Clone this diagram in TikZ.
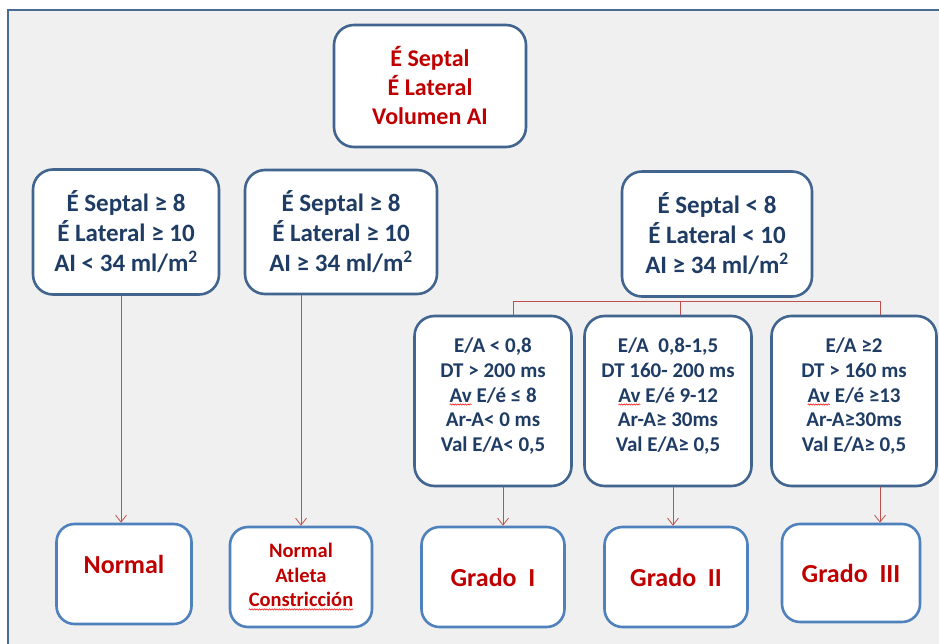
\documentclass[tikz,border=0pt]{standalone}
\usepackage{fontspec}
\setmainfont{Carlito}
\usetikzlibrary{arrows,arrows.meta,calc,positioning,decorations.pathmorphing}
\definecolor{panelgray}{HTML}{F0F0F0}
\definecolor{framblue}{HTML}{4A6C94}
\definecolor{boxblue}{HTML}{41658F}
\definecolor{lowblue}{HTML}{4F81BD}
\definecolor{txtblue}{HTML}{1F3C64}
\definecolor{txtred}{HTML}{C00000}
\definecolor{linkred}{HTML}{C0504D}
% wavy spell-check underline
\newcommand{\spellmark}[1]{\tikz[baseline=(w.base), x=1pt, y=1pt]{%
  \node[inner sep=0pt, outer sep=0pt, minimum width=0pt, minimum height=0pt, draw=none, fill=none, rounded corners=0pt, anchor=base] (w) {#1};
  \draw[red, line width=0.5pt, rounded corners=0pt, decorate, decoration={snake, amplitude=0.7pt, segment length=2.5pt}]
    ([yshift=-2.5pt]w.base west) -- ([yshift=-2.5pt]w.base east);}}

\begin{document}
\begin{tikzpicture}[x=1pt,y=-1pt,
decbox/.style={rectangle, rounded corners=20pt, draw=boxblue, fill=white, line width=2.6pt, align=center, text=txtblue, inner sep=0pt},
topbox/.style={decbox, text=txtred, font=\bfseries\fontsize{24}{29}\selectfont},
critbox/.style={decbox, font=\bfseries\fontsize{25}{30}\selectfont},
phasebox/.style={decbox, font=\bfseries\fontsize{21}{24.7}\selectfont},
endbox/.style={decbox, draw=lowblue, rounded corners=18pt, text=txtred, font=\bfseries\fontsize{26}{30}\selectfont},
link/.style={draw=linkred, line width=0.8pt},
arrowlink/.style={link, -{Straight Barb[length=7pt,width=11pt]}},
]
%Background
\useasboundingbox (0,0) rectangle (939,644);
\fill[white] (0,0) rectangle (939,644);
\fill[panelgray] (8,10) rectangle (945,650);
\draw[framblue, line width=2.6pt] (8,650) -- (8,10) -- (945,10);

%Nodes
\node[topbox, minimum width=192pt, minimum height=122pt] (root) at (430,86)
  {É Septal\\É Lateral\\Volumen AI};

\node[critbox, minimum width=186pt, minimum height=125pt] (normfill) at (126,232)
  {É Septal ≥ 8\\É Lateral ≥ 10\\AI < 34 ml/m\textsuperscript{2}};
\node[critbox, minimum width=192pt, minimum height=124pt] (bigatrium) at (341,232)
  {É Septal ≥ 8\\É Lateral ≥ 10\\AI ≥ 34 ml/m\textsuperscript{2}};
\node[critbox, minimum width=190pt, minimum height=125pt] (dysfunc) at (717,234)
  {É Septal < 8\\É Lateral < 10\\AI ≥ 34 ml/m\textsuperscript{2}};

\node[phasebox, minimum width=157pt, minimum height=170pt] (gradeone) at (493,401)
  {E/A < 0,8\\DT > 200 ms\\\spellmark{Av} E/é ≤ 8\\Ar-A< 0 ms\\Val E/A< 0,5\\[-12pt]};
\node[phasebox, minimum width=167pt, minimum height=170pt] (gradetwo) at (668,401)
  {E/A~~0,8-1,5\\DT 160- 200 ms\\\spellmark{Av} E/é 9-12\\Ar-A≥ 30ms\\Val E/A≥ 0,5\\[-12pt]};
\node[phasebox, minimum width=165pt, minimum height=170pt] (gradethree) at (854,401)
  {E/A ≥2\\DT > 160 ms\\\spellmark{Av} E/é ≥13\\Ar-A≥30ms\\Val E/A≥ 0,5\\[-12pt]};

\node[endbox, minimum width=135pt, minimum height=100pt] (normal) at (124,574)
  {Normal\\[-10pt]};
\node[endbox, minimum width=142pt, minimum height=100pt, font=\bfseries\fontsize{20.5}{24.5}\selectfont] (athlete) at (301,577)
  {Normal\\Atleta\\\spellmark{Constricción}};
\node[endbox, minimum width=143pt, minimum height=100pt] (stageone) at (493,577)
  {Grado~~I};
\node[endbox, minimum width=143pt, minimum height=100pt] (stagetwo) at (676,577)
  {Grado~~II};
\node[endbox, minimum width=138pt, minimum height=98pt] (stagethree) at (851,573)
  {Grado~~III};

%Lines
\draw[link] ([xshift=20pt]gradeone.north) -- ++(0,-13) -| ([xshift=26pt]gradethree.north);
\draw[link] ([xshift=12pt]gradetwo.north) -- ++(0,-13);

\draw[arrowlink] ([xshift=-5pt]normfill.south) -- ([xshift=-5pt]normfill.south |- normal.north);
\draw[arrowlink] ([xshift=-40pt]bigatrium.south) -- ([xshift=-40pt]bigatrium.south |- athlete.north);
\draw[arrowlink] ([xshift=10pt]gradeone.south) -- ([xshift=10pt]gradeone.south |- stageone.north);
\draw[arrowlink] ([xshift=5pt]gradetwo.south) -- ([xshift=5pt]gradetwo.south |- stagetwo.north);
\draw[arrowlink] ([xshift=26pt]gradethree.south) -- ([xshift=26pt]gradethree.south |- stagethree.north);
\end{tikzpicture}
\end{document}
